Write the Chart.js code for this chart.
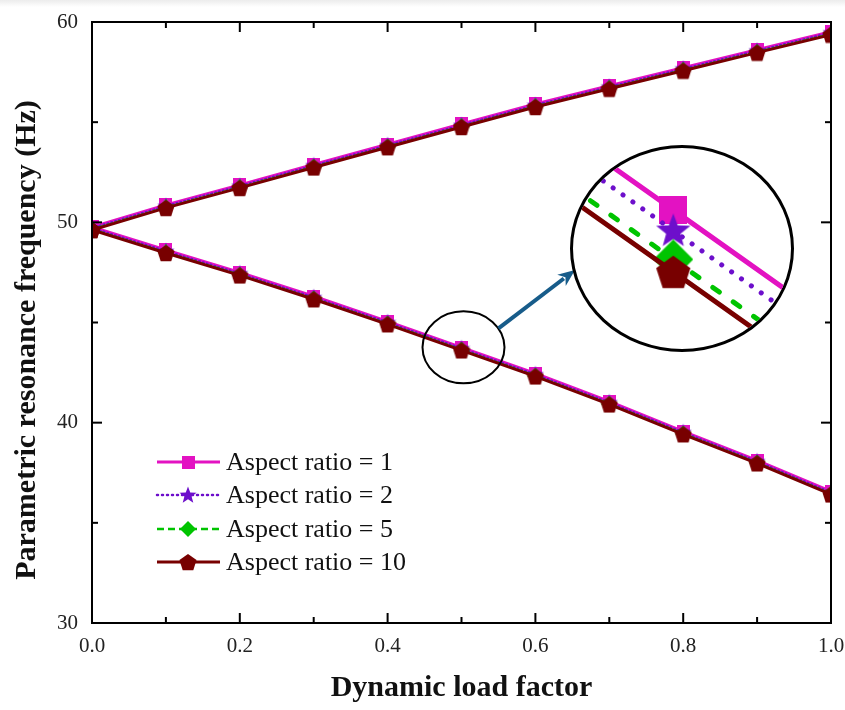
<!DOCTYPE html>
<html>
<head>
<meta charset="utf-8">
<script src="https://cdn.jsdelivr.net/npm/chart.js@4.4.1/dist/chart.umd.min.js"></script>
<style>
  html, body { margin: 0; padding: 0; background: #fff; }
  #wrap { position: relative; width: 845px; height: 710px; overflow: hidden;
          background: linear-gradient(#ececec 0, #fff 7px); }
  canvas { display: block; }
  #zoom { position: absolute; left: 570px; top: 145px; width: 218px; height: 201px;
          border: 3px solid #000; border-radius: 50%; overflow: hidden; background: #fff; }
</style>
</head>
<body>
<div id="wrap">
  <canvas id="chart" width="845" height="710"></canvas>
  <div id="zoom"><canvas id="inset" width="218" height="201"></canvas></div>
</div>
<script>
// dynamic load factor (x)
const loadFactor = [0, 0.1, 0.2, 0.3, 0.4, 0.5, 0.6, 0.7, 0.8, 0.9, 1.0];

// parametric resonance frequency (Hz), upper and lower branch per aspect ratio
const upperAR1  = [49.77, 50.87, 51.87, 52.89, 53.90, 54.91, 55.91, 56.82, 57.72, 58.62, 59.52];
const lowerAR1  = [49.77, 48.62, 47.50, 46.31, 45.06, 43.76, 42.46, 41.06, 39.57, 38.12, 36.57];
const upperAR2  = [49.72, 50.82, 51.82, 52.84, 53.85, 54.86, 55.86, 56.77, 57.67, 58.57, 59.47];
const lowerAR2  = [49.72, 48.57, 47.45, 46.26, 45.01, 43.71, 42.41, 41.01, 39.52, 38.07, 36.52];
const upperAR5  = [49.65, 50.75, 51.75, 52.77, 53.78, 54.79, 55.79, 56.70, 57.60, 58.50, 59.40];
const lowerAR5  = [49.65, 48.50, 47.38, 46.19, 44.94, 43.64, 42.34, 40.94, 39.45, 38.00, 36.45];
const upperAR10 = [49.62, 50.72, 51.72, 52.74, 53.75, 54.76, 55.76, 56.67, 57.57, 58.47, 59.37];
const lowerAR10 = [49.62, 48.47, 47.35, 46.16, 44.91, 43.61, 42.31, 40.91, 39.42, 37.97, 36.42];

const seriesLabels = ['Aspect ratio = 1', 'Aspect ratio = 2', 'Aspect ratio = 5', 'Aspect ratio = 10'];
const seriesUpper = [upperAR1, upperAR2, upperAR5, upperAR10];
const seriesLower = [lowerAR1, lowerAR2, lowerAR5, lowerAR10];

const xTitle = 'Dynamic load factor';
const yTitle = 'Parametric resonance frequency (Hz)';

// axis ticks
const xMajor = [0.2, 0.4, 0.6, 0.8];
const xMinor = [0.1, 0.3, 0.5, 0.7, 0.9];
const yMajor = [40, 50];
const yMinor = [35, 45, 55];

// the circled point that the magnified view shows
const zoomX = 0.5;
const zoomRange = { xMin: 0.48675, xMax: 0.51555, yMin: 43.423, yMax: 43.91 };

const looks = [
  { color: '#E312C2', shape: 'square',
    main: { w: 3, dash: [], m: 13 }, big: { w: 5, dash: [], m: 28 } },
  { color: '#6D0FCB', shape: 'star',
    main: { w: 2, dash: [1, 3], m: 18 }, big: { w: 5, dash: [0.1, 12], m: 36 } },
  { color: '#00C400', shape: 'diamond',
    main: { w: 2, dash: [5, 3], m: 16 }, big: { w: 5, dash: [8, 17], m: 40 } },
  { color: '#780000', shape: 'pentagon',
    main: { w: 3, dash: [], m: 18 }, big: { w: 5, dash: [], m: 36 } }
];

function marker(shape, size, color) {
  const c = document.createElement('canvas');
  c.width = c.height = size;
  const g = c.getContext('2d');
  const r = size / 2;
  g.fillStyle = color;
  g.beginPath();
  if (shape === 'square') {
    g.rect(0, 0, size, size);
  } else if (shape === 'diamond') {
    g.moveTo(r, 0); g.lineTo(size, r); g.lineTo(r, size); g.lineTo(0, r);
  } else if (shape === 'star') {
    for (let i = 0; i < 10; i++) {
      const a = -Math.PI / 2 + i * Math.PI / 5;
      const rr = i % 2 ? r * 0.42 : r;
      g.lineTo(r + rr * Math.cos(a), r * 1.05 + rr * Math.sin(a));
    }
  } else {
    for (let i = 0; i < 5; i++) {
      const a = -Math.PI / 2 + i * 2 * Math.PI / 5;
      g.lineTo(r + r * Math.cos(a), r * 1.1 + r * Math.sin(a));
    }
  }
  g.closePath();
  g.fill();
  return c;
}

function points(upper, lower) {
  const pts = loadFactor.map((x, i) => ({ x: x, y: upper[i] }));
  pts.push({ x: 1, y: null });
  return pts.concat(loadFactor.map((x, i) => ({ x: x, y: lower[i] })));
}

function makeDatasets(kind) {
  return seriesLabels.map((label, i) => {
    const lk = looks[i];
    const st = lk[kind];
    return {
      label: label,
      data: points(seriesUpper[i], seriesLower[i]),
      borderColor: lk.color,
      backgroundColor: lk.color,
      borderWidth: st.w,
      borderDash: st.dash,
      borderCapStyle: st.dash.length ? 'round' : 'butt',
      pointStyle: marker(lk.shape, st.m, lk.color),
      pointRadius: st.m / 2,
      tension: 0,
      spanGaps: false,
      order: 4 - i
    };
  });
}

const serif = "'Liberation Serif', 'Times New Roman', serif";

// frame, inner ticks, titles, the circle + arrow and the legend
const decorations = {
  id: 'decorations',
  afterDraw(chart) {
    const ctx = chart.ctx;
    const a = chart.chartArea;
    const xs = chart.scales.x, ys = chart.scales.y;
    ctx.save();
    ctx.strokeStyle = '#000';
    ctx.lineWidth = 2;
    ctx.beginPath();
    ctx.rect(a.left, a.top, a.right - a.left, a.bottom - a.top);
    ctx.stroke();

    const tick = (x1, y1, x2, y2) => { ctx.beginPath(); ctx.moveTo(x1, y1); ctx.lineTo(x2, y2); ctx.stroke(); };
    xMajor.forEach(v => { const p = xs.getPixelForValue(v); tick(p, a.bottom, p, a.bottom - 10); tick(p, a.top, p, a.top + 10); });
    xMinor.forEach(v => { const p = xs.getPixelForValue(v); tick(p, a.bottom, p, a.bottom - 6); tick(p, a.top, p, a.top + 6); });
    yMajor.forEach(v => { const p = ys.getPixelForValue(v); tick(a.left, p, a.left + 10, p); tick(a.right, p, a.right - 10, p); });
    yMinor.forEach(v => { const p = ys.getPixelForValue(v); tick(a.left, p, a.left + 6, p); tick(a.right, p, a.right - 6, p); });

    // axis titles
    ctx.fillStyle = '#111';
    ctx.font = 'bold 30px ' + serif;
    ctx.textAlign = 'center';
    ctx.textBaseline = 'middle';
    ctx.fillText(xTitle, (a.left + a.right) / 2, 688);
    ctx.save();
    ctx.translate(27, 340);
    ctx.rotate(-Math.PI / 2);
    ctx.fillText(yTitle, 0, 0);
    ctx.restore();

    // small circle round the magnified point
    const cx = xs.getPixelForValue(zoomX) + 2;
    const cy = ys.getPixelForValue(lowerAR10[loadFactor.indexOf(zoomX)]) - 3;
    ctx.strokeStyle = '#000';
    ctx.lineWidth = 2;
    ctx.beginPath();
    ctx.ellipse(cx, cy, 41, 36, 0, 0, Math.PI * 2);
    ctx.stroke();

    // arrow towards the magnified view
    const sx = cx + 35, sy = cy - 19, tx = 575, ty = 270;
    const len = Math.hypot(tx - sx, ty - sy);
    const ux = (tx - sx) / len, uy = (ty - sy) / len;
    ctx.strokeStyle = '#175C8A';
    ctx.fillStyle = '#175C8A';
    ctx.lineWidth = 4;
    tick(sx, sy, tx - ux * 14, ty - uy * 14);
    ctx.beginPath();
    ctx.moveTo(tx, ty);
    ctx.lineTo(tx - ux * 17 - uy * 7, ty - uy * 17 + ux * 7);
    ctx.lineTo(tx - ux * 12, ty - uy * 12);
    ctx.lineTo(tx - ux * 17 + uy * 7, ty - uy * 17 - ux * 7);
    ctx.closePath();
    ctx.fill();

    // legend
    const rows = [462, 495, 529, 562];
    ctx.font = '26px ' + serif;
    ctx.textAlign = 'left';
    ctx.textBaseline = 'middle';
    chart.data.datasets.forEach((ds, i) => {
      const y = rows[i];
      ctx.strokeStyle = ds.borderColor;
      ctx.lineWidth = i === 0 || i === 3 ? 3 : 2.5;
      ctx.setLineDash(i === 1 ? [1, 4] : i === 2 ? [7, 4] : []);
      ctx.lineCap = i === 1 ? 'round' : 'butt';
      tick(157, y, 220, y);
      ctx.setLineDash([]);
      const m = ds.pointStyle;
      ctx.drawImage(m, 188 - m.width / 2, y - m.height / 2);
      ctx.fillStyle = '#111';
      ctx.fillText(ds.label, 226, y + 1);
    });
    ctx.restore();
  }
};

new Chart(document.getElementById('chart'), {
  type: 'line',
  data: { datasets: makeDatasets('main') },
  options: {
    responsive: false,
    animation: false,
    events: [],
    layout: { autoPadding: false, padding: { top: 22, right: 14, left: 0, bottom: 0 } },
    plugins: { legend: { display: false }, tooltip: { enabled: false } },
    scales: {
      x: {
        type: 'linear', min: 0, max: 1,
        grid: { display: false, drawTicks: false },
        border: { display: true, color: '#000', width: 2 },
        ticks: { stepSize: 0.2, padding: 11, color: '#222', font: { family: serif, size: 21 },
                 callback: v => v.toFixed(1) },
        afterFit: s => { s.height = 87; s.paddingLeft = 0; s.paddingRight = 0; }
      },
      y: {
        type: 'linear', min: 30, max: 60,
        grid: { display: false, drawTicks: false },
        border: { display: true, color: '#000', width: 2 },
        ticks: { stepSize: 10, padding: 14, color: '#222', font: { family: serif, size: 21 } },
        afterFit: s => { s.width = 92; s.paddingTop = 0; s.paddingBottom = 0; }
      }
    }
  },
  plugins: [decorations]
});

// magnified view of the lower branch around the circled point
new Chart(document.getElementById('inset'), {
  type: 'line',
  data: { datasets: makeDatasets('big') },
  options: {
    responsive: false,
    animation: false,
    events: [],
    layout: { autoPadding: false, padding: 0 },
    plugins: { legend: { display: false }, tooltip: { enabled: false } },
    scales: {
      x: { type: 'linear', display: false, min: zoomRange.xMin, max: zoomRange.xMax },
      y: { type: 'linear', display: false, min: zoomRange.yMin, max: zoomRange.yMax }
    }
  }
});
</script>
</body>
</html>
